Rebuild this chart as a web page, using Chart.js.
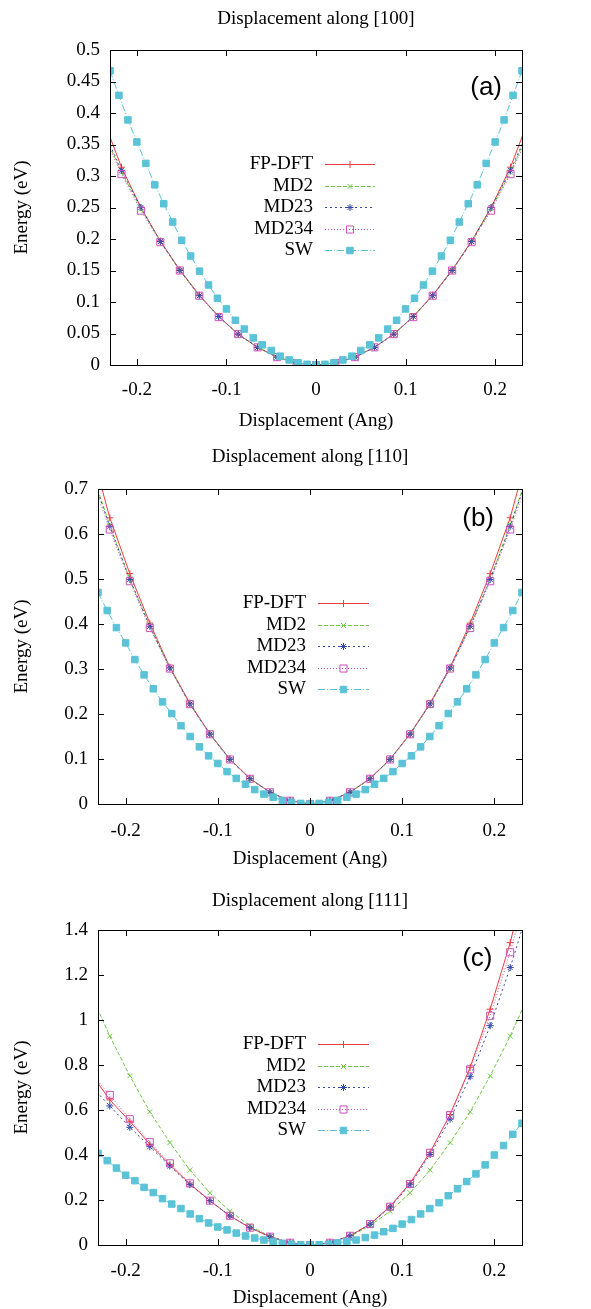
<!DOCTYPE html>
<html>
<head>
<meta charset="utf-8">
<script src="https://cdn.jsdelivr.net/npm/chart.js@4/dist/chart.umd.min.js"></script>
<style>
  html, body { margin: 0; padding: 0; background: #fff; overflow: hidden; }
  #wrap { position: relative; width: 591px; height: 1309px; }
  canvas { position: absolute; left: 0; }
</style>
</head>
<body>
<div id="wrap">
  <canvas id="c100" width="591" height="435" style="top:0px"></canvas>
  <canvas id="c110" width="591" height="440" style="top:435px"></canvas>
  <canvas id="c111" width="591" height="434" style="top:875px"></canvas>
</div>
<script>
'use strict'
// series names (same for all three panels)
const seriesNames = ['FP-DFT', 'MD2', 'MD23', 'MD234', 'SW'];

// displacement points for FP-DFT / MD runs (last one on each side is clipped by the axis)
const dispMD = [-0.2389, -0.2172, -0.1955, -0.1738, -0.1520, -0.1303, -0.1086, -0.0869, -0.0652, -0.0434, -0.0217,
  0, 0.0217, 0.0434, 0.0652, 0.0869, 0.1086, 0.1303, 0.1520, 0.1738, 0.1955, 0.2172, 0.2389];
// displacement points for SW
const dispSW = [-0.23, -0.22, -0.21, -0.20, -0.19, -0.18, -0.17, -0.16, -0.15, -0.14, -0.13, -0.12, -0.11, -0.10,
  -0.09, -0.08, -0.07, -0.06, -0.05, -0.04, -0.03, -0.02, -0.01, 0, 0.01, 0.02, 0.03, 0.04, 0.05, 0.06, 0.07, 0.08,
  0.09, 0.10, 0.11, 0.12, 0.13, 0.14, 0.15, 0.16, 0.17, 0.18, 0.19, 0.20, 0.21, 0.22, 0.23];

// ---- [100]
const dft100 = [0.395, 0.314, 0.250, 0.197, 0.151, 0.111, 0.077, 0.049, 0.028, 0.0125, 0.003, 0,
  0.003, 0.0125, 0.028, 0.049, 0.077, 0.111, 0.151, 0.197, 0.250, 0.314, 0.395];
const md2_100 = [0.375, 0.306, 0.248, 0.196, 0.150, 0.110, 0.077, 0.049, 0.028, 0.0125, 0.003, 0,
  0.003, 0.0125, 0.028, 0.049, 0.077, 0.110, 0.150, 0.196, 0.248, 0.306, 0.375];
const md23_100 = [0.378, 0.309, 0.250, 0.196, 0.150, 0.110, 0.077, 0.049, 0.028, 0.0125, 0.003, 0,
  0.003, 0.0125, 0.028, 0.049, 0.077, 0.110, 0.150, 0.196, 0.250, 0.309, 0.378];
const md234_100 = [0.370, 0.303, 0.245, 0.195, 0.150, 0.110, 0.076, 0.049, 0.028, 0.0125, 0.003, 0,
  0.003, 0.0125, 0.028, 0.049, 0.076, 0.110, 0.150, 0.195, 0.245, 0.303, 0.370];
const sw100 = [0.467, 0.428, 0.389, 0.354, 0.320, 0.286, 0.256, 0.227, 0.198, 0.173, 0.149, 0.127, 0.106, 0.089,
  0.071, 0.057, 0.043, 0.032, 0.023, 0.014, 0.008, 0.0037, 0.0011, 0, 0.0011, 0.0037, 0.008, 0.014, 0.023, 0.032,
  0.043, 0.057, 0.071, 0.089, 0.106, 0.127, 0.149, 0.173, 0.198, 0.227, 0.256, 0.286, 0.320, 0.354, 0.389, 0.428, 0.467];

// ---- [110]
const dft110 = [0.80, 0.636, 0.512, 0.402, 0.304, 0.224, 0.156, 0.100, 0.057, 0.026, 0.0073, 0,
  0.0073, 0.026, 0.057, 0.100, 0.156, 0.224, 0.304, 0.402, 0.512, 0.636, 0.80];
const md2_110 = [0.75, 0.620, 0.500, 0.395, 0.302, 0.222, 0.155, 0.099, 0.056, 0.026, 0.0073, 0,
  0.0073, 0.026, 0.056, 0.099, 0.155, 0.222, 0.302, 0.395, 0.500, 0.620, 0.75];
const md23_110 = [0.745, 0.617, 0.499, 0.395, 0.302, 0.222, 0.155, 0.099, 0.056, 0.026, 0.0073, 0,
  0.0073, 0.026, 0.056, 0.099, 0.155, 0.222, 0.302, 0.395, 0.499, 0.617, 0.745];
const md234_110 = [0.735, 0.610, 0.495, 0.391, 0.301, 0.222, 0.155, 0.099, 0.056, 0.026, 0.0073, 0,
  0.0073, 0.026, 0.056, 0.099, 0.155, 0.222, 0.301, 0.391, 0.495, 0.610, 0.735];
const sw110 = [0.470, 0.430, 0.392, 0.358, 0.321, 0.287, 0.256, 0.227, 0.201, 0.174, 0.150, 0.127, 0.107, 0.090,
  0.072, 0.057, 0.044, 0.032, 0.022, 0.015, 0.008, 0.0036, 0.0013, 0, 0.0013, 0.0036, 0.008, 0.015, 0.022, 0.032,
  0.044, 0.057, 0.072, 0.090, 0.107, 0.127, 0.150, 0.174, 0.201, 0.227, 0.256, 0.287, 0.321, 0.358, 0.392, 0.430, 0.470];

// ---- [111]
const dft111 = [0.77, 0.645, 0.550, 0.448, 0.357, 0.271, 0.197, 0.129, 0.077, 0.037, 0.010, 0,
  0.010, 0.041, 0.093, 0.172, 0.275, 0.412, 0.580, 0.790, 1.048, 1.344, 1.70];
const md2_111 = [1.125, 0.929, 0.752, 0.592, 0.455, 0.333, 0.232, 0.150, 0.086, 0.038, 0.0095, 0,
  0.0095, 0.038, 0.086, 0.150, 0.232, 0.333, 0.455, 0.592, 0.752, 0.929, 1.125];
const md23_111 = [0.713, 0.618, 0.523, 0.437, 0.351, 0.268, 0.197, 0.129, 0.077, 0.037, 0.010, 0,
  0.010, 0.041, 0.092, 0.168, 0.268, 0.402, 0.559, 0.748, 0.975, 1.233, 1.52];
const md234_111 = [0.77, 0.667, 0.559, 0.457, 0.363, 0.274, 0.197, 0.130, 0.077, 0.037, 0.010, 0,
  0.010, 0.041, 0.093, 0.170, 0.271, 0.410, 0.578, 0.781, 1.019, 1.301, 1.62];
const sw111 = [0.407, 0.375, 0.342, 0.310, 0.286, 0.256, 0.233, 0.206, 0.182, 0.162, 0.138, 0.117, 0.098, 0.080,
  0.067, 0.053, 0.040, 0.031, 0.022, 0.013, 0.0074, 0.003, 0.001, 0, 0.001, 0.003, 0.010, 0.016, 0.022, 0.033,
  0.044, 0.059, 0.074, 0.093, 0.113, 0.138, 0.162, 0.188, 0.219, 0.250, 0.282, 0.316, 0.356, 0.400, 0.442, 0.492, 0.541];

const serif = '"Liberation Serif", "Times New Roman", serif';

// line styles like gnuplot's default terminal
const styles = [
  { color: 'rgb(240,60,60)', dash: [], point: 'cross', r: 3.5, fill: 'rgb(240,60,60)' },
  { color: 'rgb(110,200,70)', dash: [4, 2], point: 'crossRot', r: 3.5, fill: 'rgb(110,200,70)' },
  { color: 'rgb(50,75,170)', dash: [2, 3], point: 'star', r: 3.5, fill: 'rgb(50,75,170)' },
  { color: 'rgb(205,80,185)', dash: [1, 2], point: 'rect', r: 5, fill: 'rgba(0,0,0,0)' },
  { color: 'rgb(90,195,215)', dash: [7, 2, 1, 2], point: 'rect', r: 4.6, fill: 'rgb(90,195,215)' },
];

function pairs(xs, ys) {
    return xs.map((x, i) => ({ x: x, y: ys[i] }));
}

// draws border box and inward ticks on all 4 sides (like gnuplot)
const frameTicks = {
    id: 'frameTicks',
    afterDatasetsDraw(chart) {
        const ctx = chart.ctx;
        const a = chart.chartArea;
        const xs = chart.scales.x, ys = chart.scales.y;
        const len = 6;
        ctx.save();
        ctx.strokeStyle = '#000';
        ctx.lineWidth = 1;
        ctx.setLineDash([]);
        ctx.beginPath();
        xs.ticks.forEach(t => {
            const px = Math.round(xs.getPixelForValue(t.value)) + 0.5;
            ctx.moveTo(px, a.bottom); ctx.lineTo(px, a.bottom - len);
            ctx.moveTo(px, a.top); ctx.lineTo(px, a.top + len);
        });
        ys.ticks.forEach(t => {
            const py = Math.round(ys.getPixelForValue(t.value)) + 0.5;
            ctx.moveTo(a.left, py); ctx.lineTo(a.left + len, py);
            ctx.moveTo(a.right, py); ctx.lineTo(a.right - len, py);
        });
        ctx.stroke();
        ctx.strokeRect(Math.round(a.left) + 0.5, Math.round(a.top) + 0.5,
            Math.round(a.right - a.left), Math.round(a.bottom - a.top));
        ctx.restore();
    }
};

// title centred over the plot box, not the whole canvas
const boxTitle = {
    id: 'boxTitle',
    afterDraw(chart, args, opts) {
        const ctx = chart.ctx;
        const a = chart.chartArea;
        ctx.save();
        ctx.font = '19px ' + serif;
        ctx.fillStyle = '#000';
        ctx.textAlign = 'center';
        ctx.textBaseline = 'middle';
        ctx.fillText(opts.text, (a.left + a.right) / 2, a.top - opts.above);
        ctx.restore();
    }
};

// key inside the plot: text right aligned, sample to the right
const gnuKey = {
    id: 'gnuKey',
    afterDatasetsDraw(chart, args, opts) {
        const ctx = chart.ctx;
        const a = chart.chartArea;
        ctx.save();
        ctx.font = '19px ' + serif;
        ctx.textAlign = 'right';
        ctx.textBaseline = 'middle';
        chart.data.datasets.forEach((ds, i) => {
            const y = Math.round(a.top + opts.top + i * opts.rowH) + 0.5;
            ctx.fillStyle = '#000';
            ctx.fillText(ds.label, opts.textX, y);
            ctx.strokeStyle = ds.borderColor;
            ctx.lineWidth = 1;
            ctx.setLineDash(ds.borderDash);
            ctx.beginPath();
            ctx.moveTo(opts.x1, y);
            ctx.lineTo(opts.x2, y);
            ctx.stroke();
            ctx.setLineDash([]);
            ctx.fillStyle = ds.pointBackgroundColor;
            ctx.strokeStyle = ds.pointBorderColor;
            ctx.lineWidth = 1;
            Chart.helpers.drawPoint(ctx, {
                pointStyle: ds.pointStyle, radius: ds.pointRadius, borderWidth: 1, rotation: 0
            }, (opts.x1 + opts.x2) / 2, y);
        });
        ctx.restore();
    }
};

// "(a)" / "(b)" / "(c)" tag
const panelTag = {
    id: 'panelTag',
    afterDatasetsDraw(chart, args, opts) {
        const ctx = chart.ctx;
        const a = chart.chartArea;
        ctx.save();
        ctx.font = '26px "Liberation Sans", Arial, sans-serif';
        ctx.fillStyle = '#000';
        ctx.textAlign = 'right';
        ctx.textBaseline = 'middle';
        ctx.fillText(opts.text, a.right - opts.dx, a.top + opts.dy);
        ctx.restore();
    }
};

function makePanel(id, p) {
    const datasets = p.series.map((ys, i) => {
        const st = styles[i];
        return {
            label: seriesNames[i],
            data: pairs(i === 4 ? dispSW : dispMD, ys),
            borderColor: st.color,
            borderWidth: 1,
            borderDash: st.dash,
            pointStyle: st.point,
            pointRadius: st.r,
            pointBorderWidth: 1,
            pointBorderColor: st.color,
            pointBackgroundColor: st.fill,
            tension: 0,
            order: 4 - i // later series drawn on top
        };
    });
    new Chart(document.getElementById(id), {
        type: 'line',
        data: { datasets: datasets },
        options: {
            responsive: false,
            animation: false,
            devicePixelRatio: 1,
            layout: { padding: { left: 0, right: 69, top: p.plotTop, bottom: 0 } },
            plugins: {
                legend: { display: false },
                tooltip: { enabled: false },
                title: { display: false },
                boxTitle: { text: p.title, above: p.titleAbove },
                gnuKey: { top: 114, rowH: 21.6, textX: p.keyTextX, x1: p.keyX1, x2: p.keyX2 },
                panelTag: { text: p.tag, dx: p.tagDx, dy: p.tagDy }
            },
            scales: {
                x: {
                    type: 'linear',
                    min: -0.23,
                    max: 0.23,
                    grid: { display: false, drawTicks: false },
                    border: { display: false },
                    ticks: {
                        stepSize: 0.1,
                        includeBounds: false,
                        maxRotation: 0,
                        autoSkip: false,
                        padding: p.xTickPad,
                        color: '#000',
                        font: { family: serif, size: 19 },
                        callback: v => String(Number(v.toFixed(2)))
                    },
                    title: {
                        display: true,
                        text: 'Displacement (Ang)',
                        color: '#000',
                        font: { family: serif, size: 19, lineHeight: 1 },
                        padding: { top: 0, bottom: p.xTitleBottom }
                    },
                    afterFit: s => { s.height = p.xAxisH; }
                },
                y: {
                    type: 'linear',
                    min: 0,
                    max: p.yMax,
                    grid: { display: false, drawTicks: false },
                    border: { display: false },
                    ticks: {
                        stepSize: p.yStep,
                        padding: 10,
                        color: '#000',
                        font: { family: serif, size: 19 },
                        callback: v => String(Number(v.toFixed(2)))
                    },
                    title: {
                        display: true,
                        text: 'Energy (eV)',
                        color: '#000',
                        font: { family: serif, size: 19, lineHeight: 1 },
                        padding: { top: 13, bottom: 0 }
                    },
                    afterFit: s => { s.width = p.plotLeft; }
                }
            }
        },
        plugins: [frameTicks, gnuKey, panelTag, boxTitle]
    });
}

makePanel('c100', {
    title: 'Displacement along [100]',
    series: [dft100, md2_100, md23_100, md234_100, sw100],
    yMax: 0.5, yStep: 0.05, plotLeft: 110, plotTop: 50, titleAbove: 30.5,
    xAxisH: 70, xTickPad: 14, xTitleBottom: 4.7,
    keyTextX: 313, keyX1: 325, keyX2: 375,
    tag: '(a)', tagDx: 20, tagDy: 38
});
makePanel('c110', {
    title: 'Displacement along [110]',
    series: [dft110, md2_110, md23_110, md234_110, sw110],
    yMax: 0.7, yStep: 0.1, plotLeft: 98, plotTop: 54, titleAbove: 31.8,
    xAxisH: 71, xTickPad: 16, xTitleBottom: 6.3,
    keyTextX: 306, keyX1: 318, keyX2: 369,
    tag: '(b)', tagDx: 28, tagDy: 30
});
makePanel('c111', {
    title: 'Displacement along [111]',
    series: [dft111, md2_111, md23_111, md234_111, sw111],
    yMax: 1.4, yStep: 0.2, plotLeft: 98, plotTop: 55, titleAbove: 29.2,
    xAxisH: 64, xTickPad: 15, xTitleBottom: 1.2,
    keyTextX: 306, keyX1: 318, keyX2: 369,
    tag: '(c)', tagDx: 29.5, tagDy: 29
});
</script>
</body>
</html>
